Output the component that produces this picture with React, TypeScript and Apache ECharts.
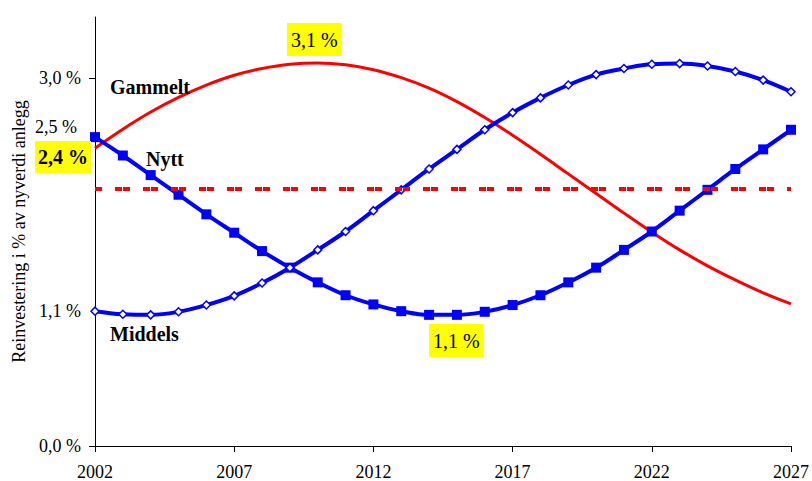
import { useEffect, useRef } from "react";
import * as echarts from "echarts";

const years = [
  "2002", "2003", "2004", "2005", "2006", "2007", "2008", "2009", "2010",
  "2011", "2012", "2013", "2014", "2015", "2016", "2017", "2018", "2019",
  "2020", "2021", "2022", "2023", "2024", "2025", "2026", "2027",
];

const gammelt = [
  2.43, 2.585, 2.725, 2.845, 2.945, 3.025, 3.08, 3.115, 3.125, 3.11, 3.07,
  3.005, 2.92, 2.81, 2.68, 2.535, 2.38, 2.22, 2.06, 1.9, 1.745, 1.6, 1.47,
  1.355, 1.25, 1.16,
];

const nytt = [
  2.52, 2.37, 2.21, 2.05, 1.89, 1.74, 1.59, 1.455, 1.335, 1.23, 1.155, 1.1,
  1.07, 1.07, 1.095, 1.15, 1.23, 1.335, 1.455, 1.6, 1.75, 1.92, 2.09, 2.26,
  2.42, 2.58,
];

const middels = [
  1.1, 1.075, 1.07, 1.095, 1.15, 1.225, 1.33, 1.455, 1.6, 1.75, 1.92, 2.09,
  2.26, 2.42, 2.58, 2.72, 2.84, 2.945, 3.03, 3.08, 3.115, 3.12, 3.1, 3.055,
  2.985, 2.89,
];

const snittNivaa = 2.1;
const yTickValues = [0, 3];
const yLabelValues = [0, 1.1, 3];

const FONT = "Liberation Serif, Times New Roman, serif";
const fmt = (v: number) => v.toFixed(1).replace(".", ",") + " %";

const txt = (
  text: string,
  x: number,
  y: number,
  size: number,
  bold: boolean,
  box?: number[]
) => ({
  type: "text",
  x,
  y,
  z: 10,
  style: {
    text,
    fontFamily: FONT,
    fontSize: size,
    fontWeight: bold ? "bold" : "normal",
    fill: "#000",
    verticalAlign: box ? "top" : "middle",
    ...(box ? { backgroundColor: "#ffff00", padding: box } : {}),
  },
});

export default function App() {
  const ref = useRef<HTMLDivElement>(null);

  useEffect(() => {
    if (!ref.current) return;
    const chart = echarts.init(ref.current, undefined, { renderer: "svg" });
    chart.setOption({
      animation: false,
      backgroundColor: "#ffffff",
      textStyle: { fontFamily: FONT },
      grid: { left: 95, right: 19, top: 17, bottom: 35, containLabel: false },
      xAxis: {
        type: "category",
        data: years,
        boundaryGap: false,
        axisLine: { lineStyle: { color: "#000", width: 1 } },
        axisTick: { interval: 4, length: 6, lineStyle: { color: "#000" } },
        axisLabel: {
          interval: 4,
          color: "#000",
          fontFamily: FONT,
          fontSize: 18,
          margin: 17,
        },
        splitLine: { show: false },
      },
      yAxis: {
        type: "value",
        min: 0,
        max: 3.5,
        name: "Reinvestering i % av nyverdi anlegg",
        nameLocation: "middle",
        nameRotate: 90,
        nameGap: 67,
        nameTextStyle: { color: "#000", fontFamily: FONT, fontSize: 18 },
        axisLine: { show: true, lineStyle: { color: "#000", width: 1 } },
        axisTick: {
          show: true,
          length: 6,
          customValues: yTickValues,
          lineStyle: { color: "#000" },
        },
        axisLabel: {
          customValues: yLabelValues,
          formatter: (v: number) => fmt(v),
          color: "#000",
          fontFamily: FONT,
          fontSize: 18,
          margin: 14,
        },
        splitLine: { show: false },
      },
      series: [
        {
          name: "Gammelt",
          type: "line",
          data: gammelt,
          smooth: 0.4,
          symbol: "none",
          lineStyle: { color: "#ff0000", width: 3 },
          z: 2,
          markLine: {
            silent: true,
            symbol: "none",
            label: { show: false },
            lineStyle: {
              color: "#ff0000",
              width: 4,
              type: [7, 1, 7, 13],
              dashOffset: 8,
            },
            data: [{ yAxis: snittNivaa }],
          },
        },
        {
          name: "Nytt",
          type: "line",
          data: nytt,
          smooth: 0.4,
          symbol: "rect",
          symbolSize: 10,
          itemStyle: { color: "#0000ff" },
          lineStyle: { color: "#0000ff", width: 4 },
          z: 3,
        },
        {
          name: "Middels",
          type: "line",
          data: middels,
          smooth: 0.4,
          symbol: "diamond",
          symbolSize: 8,
          itemStyle: { color: "#ffffff", borderColor: "#0000ff", borderWidth: 1.5 },
          lineStyle: { color: "#0000ff", width: 4 },
          z: 3,
        },
      ],
      graphic: [
        txt("Gammelt", 110, 87, 20, true),
        txt("Nytt", 146, 159, 20, true),
        txt("Middels", 110, 334, 20, true),
        txt("2,5 %", 35, 127, 18, false),
        txt("2,4 %", 35, 141, 20, true, [6, 3, 6, 3]),
        txt("3,1 %", 287, 23, 20, false, [7, 4, 6, 4]),
        txt("1,1 %", 429, 324, 20, false, [7, 4, 6, 4]),
      ],
    });
    return () => chart.dispose();
  }, []);

  return (
    <div
      ref={ref}
      style={{ position: "fixed", left: 0, top: 0, width: 812, height: 481, background: "#fff" }}
    />
  );
}
